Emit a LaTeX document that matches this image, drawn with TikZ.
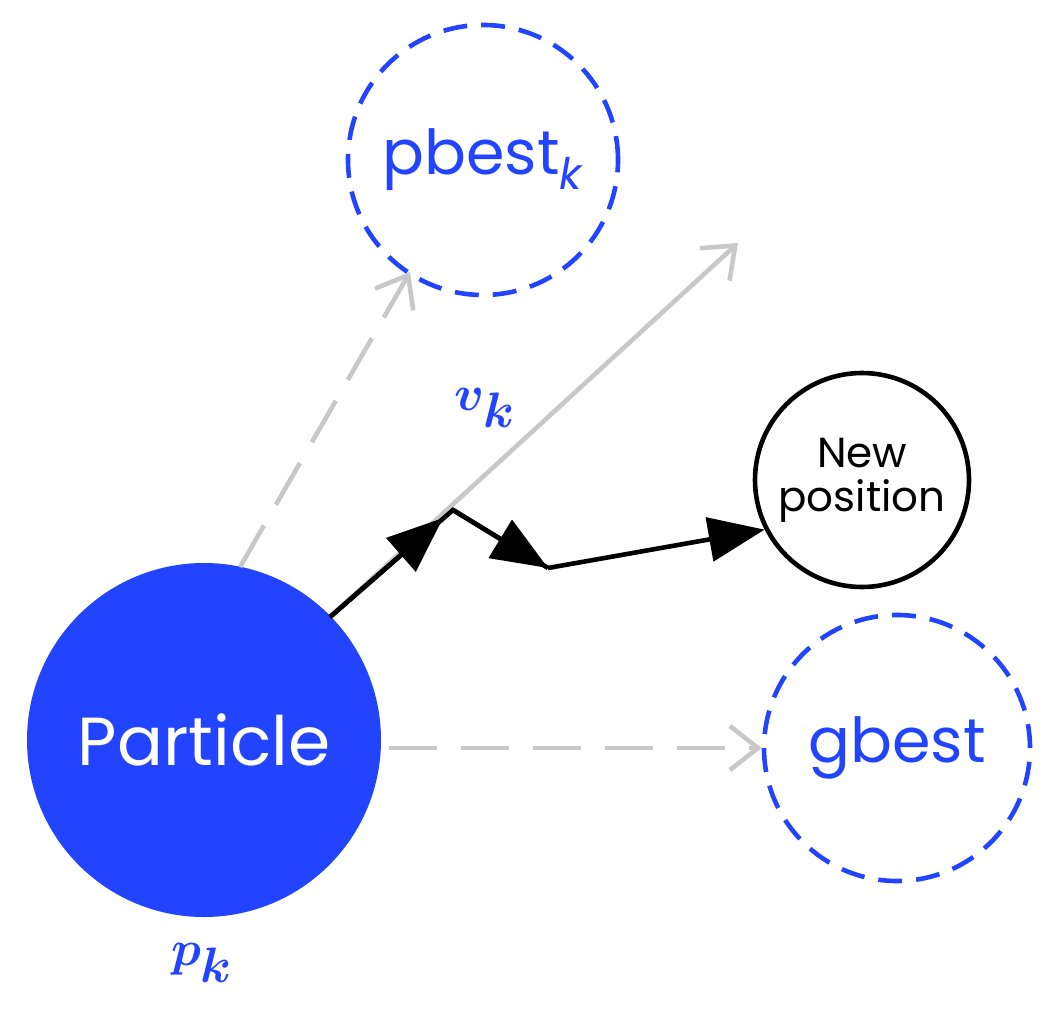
\documentclass[tikz,border=0pt]{standalone}
\usepackage{fontspec}
\setmainfont{Poppins}
\usepackage{amsmath,bm}
\usetikzlibrary{arrows.meta}
\definecolor{pblue}{RGB}{34,68,255}
\definecolor{pgray}{RGB}{200,200,200}
\begin{document}
\begin{tikzpicture}[x=0.5pt,y=-0.5pt,
  dashc/.style={circle,draw=pblue,dash pattern=on 12pt off 7pt,line width=2.3pt,text=pblue,font=\fontsize{31}{34}\selectfont,inner sep=0pt},
  garrow/.style={pgray,line width=2.3pt,-{Straight Barb[length=14pt,width=22pt]}},
  gdash/.style={garrow,dash pattern=on 24pt off 12pt},
  barrow/.style={black,line width=2.3pt,-{Triangle[length=28pt,width=22pt]}}]
\useasboundingbox (0,0) rectangle (1059,1027);
\node[circle,fill=pblue,minimum size=177pt,inner sep=0pt,text=white,font=\fontsize{34}{38}\selectfont] (P) at (204,740) {Particle};
\node[dashc,minimum size=135pt] (pb) at (483,160) {pbest$_{\mathit{k}}$};
\node[dashc,minimum size=133pt] (gb) at (897,748) {gbest};
\node[circle,draw=black,line width=2.3pt,minimum size=107pt,inner sep=0pt,align=center,font=\fontsize{21}{22}\selectfont] (np) at (862,480) {New\\position};
\coordinate (vt) at (738,243);
\coordinate (b1) at (453,510);
\coordinate (b2) at (548,568);
\coordinate (ps) at (330,617);
\coordinate (pd) at (240,567);
\draw[garrow] (ps) -- (vt);
\draw[gdash] (pd) -- (410,272);
\draw[gdash] (P.east) ++(8,8) -- (gb.west);
\draw[black,line width=2.3pt] (ps) -- (b1) -- (b2);
\draw[barrow] (ps) -- (443,518);
\draw[barrow] (b1) -- (b2);
\draw[barrow] (b2) -- (np.207);
\node[text=pblue,font=\fontsize{36}{38}\selectfont] (v) at (485,408) {$\bm{v}_{\bm{k}}$};
\node[text=pblue,font=\fontsize{36}{38}\selectfont] (p) at (202,963) {$\bm{p}_{\bm{k}}$};
\end{tikzpicture}
\end{document}
